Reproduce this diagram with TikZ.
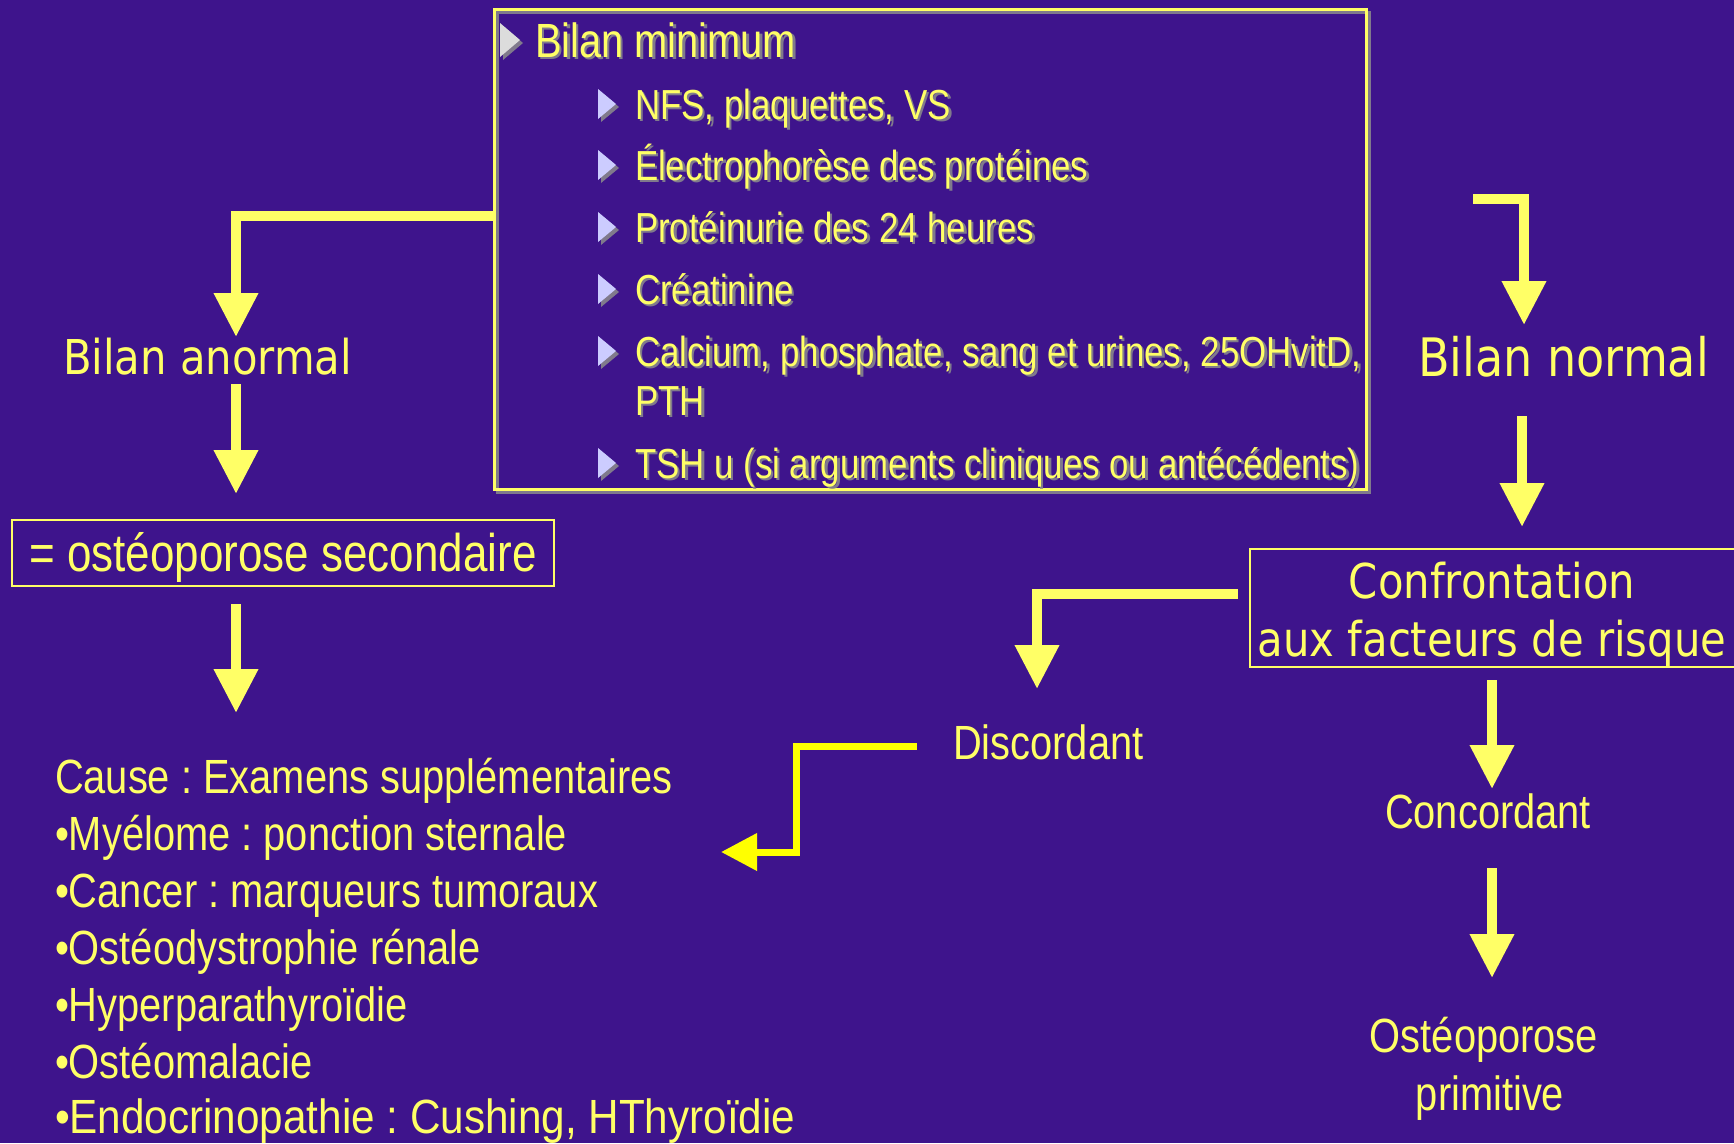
\documentclass[tikz,border=0pt]{standalone}
\usepackage{fontspec}
\usetikzlibrary{arrows.meta}
\frenchspacing
\newfontfamily\narrowfont[FakeStretch=0.83]{Liberation Sans}
\newfontfamily\narrowwide[FakeStretch=0.88]{Liberation Sans}
\newfontfamily\tahomafont[FakeStretch=0.87]{DejaVu Sans}
\definecolor{bg}{RGB}{62,20,140}
\definecolor{ylw}{RGB}{255,255,102}
\definecolor{ylwB}{RGB}{255,255,0}
\definecolor{shd}{RGB}{128,122,140}
\definecolor{trilav}{RGB}{204,204,255}
\definecolor{trigrey}{RGB}{220,220,220}
\tikzset{
  txt/.style={inner sep=0pt, outer sep=0pt, text=ylw, anchor=base west},
  nar/.style={font={\narrowfont\fontsize{#1}{#1}\selectfont}},
  tah/.style={font={\tahomafont\fontsize{#1}{#1}\selectfont}},
  bigarrow/.style={draw=ylw, line width=10pt, line join=miter, -{Triangle[width=42pt,length=44pt]}},
  smallarrow/.style={draw=ylwB, line width=7pt, line join=miter, -{Triangle[width=36pt,length=36pt]}},
  boxframe/.style={draw=ylw, line width=2pt, inner sep=0pt, outer sep=0pt}
}
\newcommand\shtxt[5]{%
  \node[txt, text=shd, nar=#4] (#1s) at (#2+2.5,#3+2.5) {#5};
  \node[txt, nar=#4] (#1) at (#2,#3) {#5};}
\newcommand\bultri[5]{%
  \fill[shd] (#1+3,#2-#4/2+3) -- ++(#3,#4/2) -- ++(-#3,#4/2) -- cycle;
  \fill[#5] (#1,#2-#4/2) -- ++(#3,#4/2) -- ++(-#3,#4/2) -- cycle;}
\begin{document}
\begin{tikzpicture}[x=1pt,y=-1pt]
\useasboundingbox (0,0) rectangle (1734,1143);
\clip (0,0) rectangle (1734,1143);
\fill[bg] (0,0) rectangle (1734,1143);

% ---------- top box ----------
\node[draw=shd, line width=3pt, minimum width=872pt, minimum height=480pt, anchor=north west, inner sep=0pt] (topboxs) at (496,11) {};
\node[draw=ylw, line width=2.5pt, minimum width=872pt, minimum height=480pt, anchor=north west, inner sep=0pt] (topbox) at (493,8) {};

\bultri{500}{40}{20}{34}{trigrey}
\shtxt{bmin}{535}{57}{48}{Bilan minimum}

\bultri{598}{104}{18}{30}{trilav}
\shtxt{it1}{635}{119}{42}{NFS, plaquettes, VS}
\bultri{598}{165}{18}{30}{trilav}
\shtxt{it2}{635}{180}{42}{Électrophorèse des protéines}
\bultri{598}{227}{18}{30}{trilav}
\shtxt{it3}{635}{242}{42}{Protéinurie des 24 heures}
\bultri{598}{289}{18}{30}{trilav}
\shtxt{it4}{635}{304}{42}{Créatinine}
\bultri{598}{351}{18}{30}{trilav}
\shtxt{it5}{635}{366}{42}{Calcium, phosphate, sang et urines, 25OHvitD,}
\shtxt{it5b}{635}{415}{42}{PTH}
\bultri{598}{463}{18}{30}{trilav}
\shtxt{it6}{635}{478}{42}{TSH u (si arguments cliniques ou antécédents)}

% ---------- left column ----------
\node[txt, tah=48] (anormal) at (63,374) {Bilan anormal};
\coordinate (k1) at (236,216);
\coordinate (k1e) at (236,337);
\draw[bigarrow] (topbox.west |- k1) -- (k1) -- (k1e);

\coordinate (k2s) at (236,384);
\coordinate (k2e) at (236,494);
\draw[bigarrow] (k2s) -- (k2e);

\node[boxframe, minimum width=542pt, minimum height=66pt, text=ylw, nar=53, text height=38pt, text depth=0pt] (second) at (283,552.5) {= ostéoporose secondaire};

\coordinate (k3s) at (236,604);
\coordinate (k3e) at (236,713);
\draw[bigarrow] (k3s) -- (k3e);

\node[txt, nar=48] (c0) at (55,793) {Cause : Examens supplémentaires};
\node[txt, nar=48] (c1) at (55,850) {•Myélome : ponction sternale};
\node[txt, nar=48] (c2) at (55,907) {•Cancer : marqueurs tumoraux};
\node[txt, nar=48] (c3) at (55,964) {•Ostéodystrophie rénale};
\node[txt, nar=48] (c4) at (55,1021) {•Hyperparathyroïdie};
\node[txt, nar=48] (c5) at (55,1078) {•Ostéomalacie};
\node[txt, font={\narrowwide\fontsize{48}{48}\selectfont}] (c6) at (55,1133) {•Endocrinopathie : Cushing, HThyroïdie};

% ---------- right column ----------
\coordinate (r1s) at (1473,199);
\coordinate (r1) at (1524,199);
\coordinate (r1e) at (1524,325);
\draw[bigarrow] (r1s) -- (r1) -- (r1e);

\node[txt, tah=53] (normal) at (1418,376) {Bilan normal};

\coordinate (r2s) at (1522,416);
\coordinate (r2e) at (1522,527);
\draw[bigarrow] (r2s) -- (r2e);

\node[boxframe, minimum width=500pt, minimum height=118pt, anchor=north west] (conf) at (1250,549) {};
\node[txt, tah=48, anchor=base] (conf1) at (1492,598) {Confrontation};
\node[txt, tah=48, anchor=base] (conf2) at (1492,656) {aux facteurs de risque};

% discordant branch
\coordinate (d1s) at (1238,594);
\coordinate (d1) at (1037,594);
\coordinate (d1e) at (1037,689);
\draw[bigarrow] (d1s) -- (d1) -- (d1e);
\node[txt, nar=48] (disc) at (953,759) {Discordant};

\coordinate (d2s) at (917,746);
\coordinate (d2a) at (796,746);
\coordinate (d2b) at (796,852);
\coordinate (d2e) at (721,852);
\draw[smallarrow] (d2s) -- (d2a) -- (d2b) -- (d2e);

% concordant branch
\coordinate (p1s) at (1492,680);
\coordinate (p1e) at (1492,789);
\draw[bigarrow] (p1s) -- (p1e);
\node[txt, nar=48, anchor=base] (conc) at (1488,828) {Concordant};

\coordinate (p2s) at (1492,868);
\coordinate (p2e) at (1492,978);
\draw[bigarrow] (p2s) -- (p2e);
\node[txt, nar=48, anchor=base] (prim1) at (1484,1052) {Ostéoporose};
\node[txt, nar=48, anchor=base] (prim2) at (1490,1110) {primitive};
\end{tikzpicture}
\end{document}
